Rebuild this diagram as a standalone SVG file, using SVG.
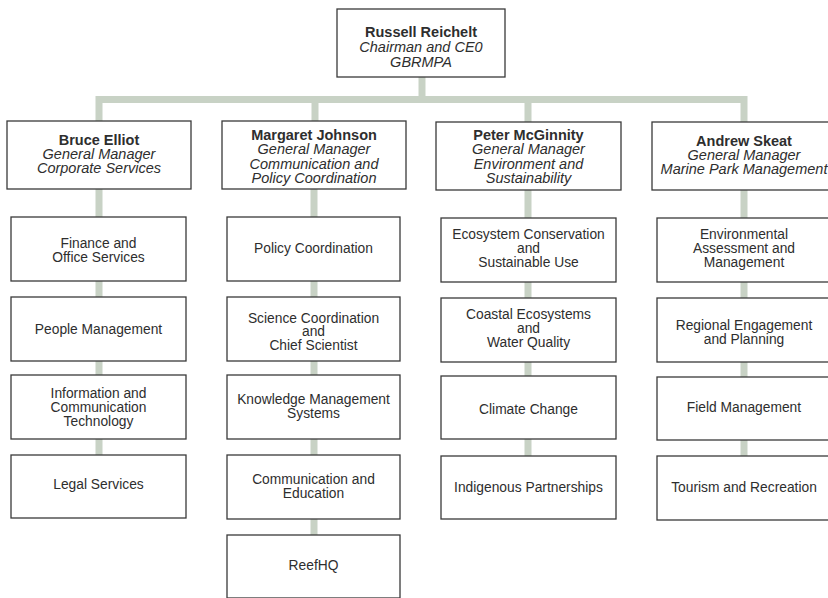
<svg xmlns="http://www.w3.org/2000/svg" width="828" height="598" viewBox="0 0 828 598">
<style>
.b{fill:#fff;stroke:#3a3a3a;stroke-width:1.3}
.c{fill:none;stroke:#c8d2c5;stroke-width:7}
text{font-family:"Liberation Sans",Arial,sans-serif;fill:#2e2e2e;text-anchor:middle}
.n{font-weight:bold;font-size:14.5px}
.r{font-style:italic;font-size:14.5px}
.t{font-size:13.8px}
</style>
<rect width="828" height="598" fill="#fff"/>
<g id="connectors">
<path class="c" d="M422 77V99.5"/>
<path class="c" d="M99 121V99.5H744V122M315 99.5V121M528 99.5V122"/>
<path class="c" d="M99 189V455"/>
<path class="c" d="M314 189V535"/>
<path class="c" d="M528 190V456"/>
<path class="c" d="M744 190V456"/>
</g>
<g id="russell"><rect class="b" x="337" y="9" width="168" height="68"/>
<text class="n" x="421" y="37">Russell Reichelt</text><text class="r" x="421" y="52">Chairman and CE0</text><text class="r" x="421" y="67">GBRMPA</text></g>
<g id="bruce"><rect class="b" x="7" y="121" width="184" height="68"/>
<text class="n" x="99" y="145">Bruce Elliot</text><text class="r" x="99" y="159">General Manager</text><text class="r" x="99" y="173">Corporate Services</text></g>
<g id="margaret"><rect class="b" x="222" y="121" width="184" height="68"/>
<text class="n" x="314" y="140">Margaret Johnson</text><text class="r" x="314" y="154">General Manager</text><text class="r" x="314" y="168.5">Communication and</text><text class="r" x="314" y="183">Policy Coordination</text></g>
<g id="peter"><rect class="b" x="436" y="122" width="185" height="68"/>
<text class="n" x="528.5" y="140">Peter McGinnity</text><text class="r" x="528.5" y="154">General Manager</text><text class="r" x="528.5" y="168.5">Environment and</text><text class="r" x="528.5" y="183">Sustainability</text></g>
<g id="andrew"><rect class="b" x="652" y="122" width="184" height="68"/>
<text class="n" x="744" y="146">Andrew Skeat</text><text class="r" x="744" y="160">General Manager</text><text class="r" x="744" y="174">Marine Park Management</text></g>

<g id="finance"><rect class="b" x="11" y="217" width="175" height="64"/><text class="t" x="98.5" y="248">Finance and</text><text class="t" x="98.5" y="262">Office Services</text></g>
<g id="people"><rect class="b" x="11" y="297" width="175" height="64"/><text class="t" x="98.5" y="334">People Management</text></g>
<g id="ict"><rect class="b" x="11" y="375" width="175" height="64"/><text class="t" x="98.5" y="398">Information and</text><text class="t" x="98.5" y="412">Communication</text><text class="t" x="98.5" y="425.5">Technology</text></g>
<g id="legal"><rect class="b" x="11" y="455" width="175" height="63"/><text class="t" x="98.5" y="489">Legal Services</text></g>

<g id="policy"><rect class="b" x="227" y="217" width="173" height="64"/><text class="t" x="313.5" y="253">Policy Coordination</text></g>
<g id="science"><rect class="b" x="227" y="297" width="173" height="64"/><text class="t" x="313.5" y="322.5">Science Coordination</text><text class="t" x="313.5" y="336">and</text><text class="t" x="313.5" y="350">Chief Scientist</text></g>
<g id="knowledge"><rect class="b" x="227" y="375" width="173" height="64"/><text class="t" x="313.5" y="404">Knowledge Management</text><text class="t" x="313.5" y="418">Systems</text></g>
<g id="commedu"><rect class="b" x="227" y="455" width="173" height="64"/><text class="t" x="313.5" y="484">Communication and</text><text class="t" x="313.5" y="498">Education</text></g>
<g id="reefhq"><rect class="b" x="227" y="535" width="173" height="63"/><text class="t" x="313.5" y="570">ReefHQ</text></g>

<g id="ecosystem"><rect class="b" x="441" y="218" width="175" height="64"/><text class="t" x="528.5" y="239">Ecosystem Conservation</text><text class="t" x="528.5" y="253">and</text><text class="t" x="528.5" y="267">Sustainable Use</text></g>
<g id="coastal"><rect class="b" x="441" y="298" width="175" height="64"/><text class="t" x="528.5" y="319">Coastal Ecosystems</text><text class="t" x="528.5" y="333">and</text><text class="t" x="528.5" y="347">Water Quality</text></g>
<g id="climate"><rect class="b" x="441" y="376" width="175" height="63"/><text class="t" x="528.5" y="414">Climate Change</text></g>
<g id="indigenous"><rect class="b" x="441" y="456" width="175" height="63"/><text class="t" x="528.5" y="492">Indigenous Partnerships</text></g>

<g id="environmental"><rect class="b" x="657" y="218" width="176" height="64"/><text class="t" x="744" y="239">Environmental</text><text class="t" x="744" y="253">Assessment and</text><text class="t" x="744" y="267">Management</text></g>
<g id="regional"><rect class="b" x="657" y="298" width="176" height="64"/><text class="t" x="744" y="330">Regional Engagement</text><text class="t" x="744" y="344">and Planning</text></g>
<g id="field"><rect class="b" x="657" y="377" width="176" height="63"/><text class="t" x="744" y="412">Field Management</text></g>
<g id="tourism"><rect class="b" x="657" y="456" width="176" height="64"/><text class="t" x="744" y="492">Tourism and Recreation</text></g>
</svg>
